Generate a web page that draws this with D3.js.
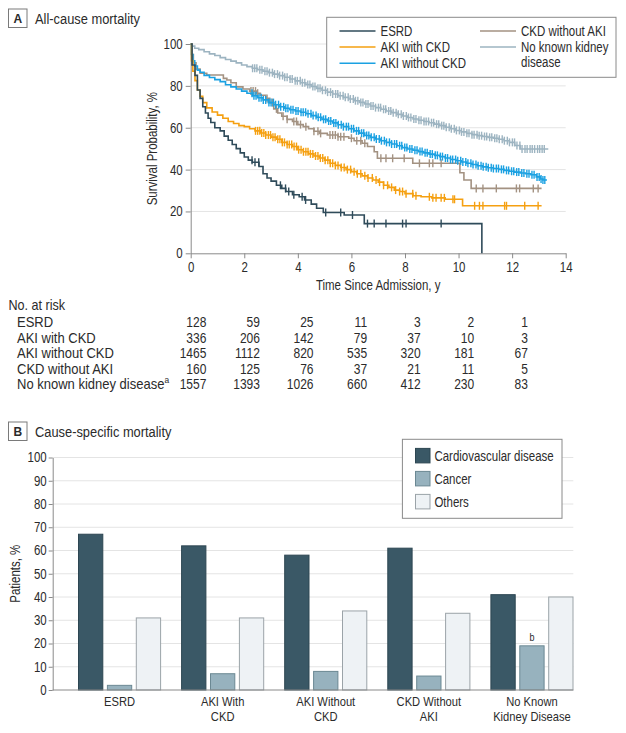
<!DOCTYPE html>
<html><head><meta charset="utf-8">
<script src="https://cdn.jsdelivr.net/npm/d3@7"></script>
<style>
body{margin:0;background:#fff;}
svg text{font-family:"Liberation Sans",Arial,sans-serif;fill:#2b2b2b;}
</style></head><body>
<svg id="c" width="626" height="733"></svg>
<script>
// ---------- Panel A data ----------
const xTicksA = [0,2,4,6,8,10,12,14];
const yTicksA = [0,20,40,60,80,100];
const seriesNames = ["ESRD","AKI with CKD","AKI without CKD","CKD without AKI","No known kidney disease"];
const seriesColors = ["#2f4b5a","#f5a011","#1ba1e2","#a39282","#9db4c1"];
// survival (time in years, survival %)
const esrdCurve = [[0,100],[0.05,90],[0.16,85],[0.25,78],[0.35,74],[0.45,70],[0.55,67],[0.65,64.5],[0.75,62.5],[0.9,60],[1.1,58.5],[1.25,56],[1.4,54],[1.55,52],[1.7,50],[1.85,48],[2.0,46],[2.15,44.5],[2.3,43.5],[2.55,41.5],[2.7,38],[2.85,36],[3.0,34.5],[3.2,32.5],[3.4,31],[3.55,29.5],[3.8,28],[4.05,27],[4.25,25.5],[4.5,23.5],[4.7,21.5],[4.95,19.5],[5.73,18.3],[6.48,14.2],[10.87,0]];
const akiCkdCurve = [[0,100],[0.03,92],[0.08,87],[0.16,82.5],[0.25,78],[0.35,75],[0.45,72],[0.6,69.5],[0.8,67.5],[1.0,66],[1.2,64.5],[1.4,63],[1.6,62],[1.8,61],[2.0,60.5],[2.2,59.5],[2.4,58.5],[2.6,57.5],[2.8,56.5],[3.0,55.5],[3.2,54.5],[3.4,53],[3.6,52],[3.8,51],[4.0,49.5],[4.2,48.5],[4.4,47.5],[4.6,46.5],[4.8,45.5],[5.0,44.5],[5.2,43],[5.4,42],[5.6,41],[5.8,40],[6.0,39],[6.2,38],[6.4,37],[6.6,36],[6.8,35],[7.0,34],[7.2,32.5],[7.4,31.5],[7.6,30.2],[7.8,29.5],[8.0,28.5],[8.3,27.5],[8.6,27],[9.0,26.5],[9.5,25.8],[10.15,22.7],[13.1,22.7]];
const akiNoCkdCurve = [[0,100],[0.03,95],[0.08,92],[0.15,89.5],[0.25,87.5],[0.35,86.5],[0.5,85],[0.7,84],[0.9,83],[1.1,82],[1.3,80.5],[1.5,79.5],[1.7,78.5],[1.9,77.5],[2.1,76.5],[2.3,75.3],[2.5,74.3],[2.7,73.3],[2.9,72],[3.1,71],[3.3,70],[3.5,69.3],[3.7,68.6],[3.9,68],[4.1,67.4],[4.3,66.7],[4.5,65.8],[4.7,65],[4.9,64],[5.1,63.2],[5.3,62.3],[5.5,61.4],[5.7,60.5],[5.9,59.5],[6.1,58.5],[6.3,57.4],[6.5,56.3],[6.7,55.4],[6.9,54.6],[7.1,53.8],[7.3,53],[7.5,52.2],[7.7,51.4],[7.9,50.5],[8.1,49.8],[8.3,49.2],[8.5,48.6],[8.7,48],[8.9,47.4],[9.1,46.8],[9.3,46.2],[9.5,45.5],[9.7,44.8],[9.9,44.2],[10.1,43.6],[10.3,43],[10.5,42.4],[10.7,41.8],[10.9,41.3],[11.1,40.9],[11.3,40.5],[11.5,40.1],[11.7,39.6],[11.9,39.2],[12.1,38.8],[12.3,38.4],[12.5,38],[12.7,37.5],[12.9,36.5],[13.05,35.5],[13.15,35],[13.3,35]];
const ckdNoAkiCurve = [[0,100],[0.04,95],[0.1,91],[0.2,88],[0.35,86],[0.6,85.2],[1.22,83.6],[1.35,82.8],[1.5,81.5],[1.7,79.5],[1.95,78.5],[2.2,77.5],[2.45,76.5],[2.6,75.5],[2.8,74],[2.95,72],[3.1,69],[3.25,67],[3.4,65.5],[3.6,64],[3.8,63],[4.0,61.5],[4.2,60.5],[4.4,59.5],[4.6,58.3],[4.8,57.3],[5.1,56.5],[5.5,55.7],[5.9,55],[6.1,53.8],[6.4,52.6],[6.6,51],[6.85,48.5],[6.97,45.4],[8.29,43],[10.05,38.5],[10.2,35],[10.47,31],[13.1,31]];
const noKidneyCurve = [[0,100],[0.05,99],[0.15,98],[0.3,97.3],[0.5,96.3],[0.7,95.3],[0.9,94.5],[1.1,93.5],[1.3,92.6],[1.5,91.8],[1.7,91],[1.9,90],[2.1,89.2],[2.3,88.4],[2.5,87.7],[2.7,87],[2.9,86.3],[3.1,85.6],[3.3,84.9],[3.5,84.1],[3.7,83.3],[3.9,82.4],[4.1,81.5],[4.3,80.6],[4.5,79.7],[4.7,78.8],[4.9,77.9],[5.1,77],[5.3,76.1],[5.5,75.3],[5.7,74.5],[5.9,73.7],[6.1,72.9],[6.3,72.1],[6.5,71.3],[6.7,70.4],[6.9,69.6],[7.1,68.8],[7.3,68],[7.5,67.2],[7.7,66.4],[7.9,65.6],[8.1,64.9],[8.3,64.2],[8.5,63.6],[8.7,63],[8.9,62.4],[9.1,61.7],[9.3,61],[9.5,60.2],[9.7,59.5],[9.9,58.7],[10.1,58],[10.3,57.3],[10.5,56.7],[10.7,56.2],[10.9,55.8],[11.1,55.4],[11.3,55],[11.5,54.5],[11.7,53.8],[11.9,53],[12.1,51.5],[12.3,49.8],[13.35,49.8]];
// censoring times (years)
const esrdCens = [2.29,2.4,2.54,3.35,3.54,3.66,3.85,4.16,4.29,5.04,5.6,6.04,6.6,6.85,7.29,7.91,8.04,9.35];
const akiCkdCens = [2.42,2.5,2.58,2.65,2.73,2.8,2.9,2.98,3.07,3.15,3.25,3.33,3.42,3.5,3.6,3.68,3.77,3.86,3.95,4.03,4.12,4.21,4.3,4.38,4.47,4.56,4.66,4.75,4.84,4.93,5.02,5.12,5.21,5.3,5.4,5.5,5.62,5.73,5.85,5.97,6.1,6.22,6.35,6.5,6.62,6.78,6.92,7.05,7.2,7.35,7.5,7.65,7.8,7.91,8.04,8.29,8.41,8.91,9.04,9.16,9.35,9.47,9.79,9.85,10.6,10.78,10.91,11.72,11.79,12.47,12.97];
const akiNoCkdCens = [2.29,2.36,2.44,2.55,2.63,2.71,2.8,2.92,3.0,3.09,3.17,3.28,3.36,3.47,3.55,3.63,3.74,3.82,3.93,4.01,4.12,4.2,4.29,4.38,4.49,4.57,4.68,4.76,4.85,4.96,5.04,5.15,5.23,5.34,5.42,5.51,5.62,5.7,5.81,5.89,6.0,6.08,6.19,6.27,6.38,6.46,6.57,6.65,6.74,6.85,6.93,7.04,7.12,7.23,7.31,7.42,7.5,7.61,7.69,7.8,7.88,7.99,8.07,8.18,8.26,8.37,8.45,8.56,8.64,8.75,8.83,8.94,9.02,9.13,9.21,9.32,9.4,9.51,9.59,9.7,9.78,9.89,9.97,10.08,10.16,10.27,10.35,10.46,10.54,10.65,10.73,10.84,10.92,11.03,11.11,11.22,11.3,11.41,11.49,11.6,11.68,11.79,11.87,11.98,12.06,12.17,12.25,12.36,12.44,12.55,12.63,12.74,12.82,12.93,13.01,13.08,13.15,13.22];
const ckdNoAkiCens = [2.25,2.33,2.42,2.5,2.85,3.05,3.2,3.45,3.6,3.85,3.95,4.1,4.3,4.6,4.75,4.85,5.2,5.3,5.4,5.5,5.6,5.72,6.0,6.2,6.35,6.5,7.1,7.29,7.54,7.97,8.54,8.91,9.04,9.35,10.66,10.91,11.41,12.16,12.28,12.79,12.97];
const noKidneyCens = [2.31,2.39,2.47,2.58,2.66,2.77,2.85,2.94,3.05,3.13,3.24,3.32,3.43,3.51,3.6,3.71,3.79,3.9,3.98,4.09,4.17,4.26,4.37,4.45,4.56,4.64,4.75,4.83,4.92,5.03,5.11,5.22,5.3,5.41,5.49,5.58,5.69,5.77,5.88,5.96,6.07,6.15,6.24,6.35,6.43,6.54,6.62,6.73,6.81,6.9,7.01,7.09,7.2,7.28,7.39,7.47,7.56,7.67,7.75,7.86,7.94,8.05,8.13,8.22,8.33,8.41,8.52,8.6,8.71,8.79,8.88,8.99,9.07,9.18,9.26,9.37,9.45,9.54,9.65,9.73,9.84,9.92,10.03,10.11,10.2,10.31,10.39,10.5,10.58,10.69,10.77,10.86,10.97,11.05,11.16,11.24,11.35,11.43,11.52,11.63,11.71,11.82,11.9,12.01,12.09,12.18,12.29,12.37,12.48,12.56,12.67,12.75,12.84,12.95,13.03,13.12,13.2];
// number at risk
const riskTimes = [0,2,4,6,8,10,12];
const riskEsrd = [128,59,25,11,3,2,1];
const riskAkiCkd = [336,206,142,79,37,10,3];
const riskAkiNoCkd = [1465,1112,820,535,320,181,67];
const riskCkdNoAki = [160,125,76,37,21,11,5];
const riskNoKidney = [1557,1393,1026,660,412,230,83];

// ---------- Panel B data ----------
const groups = ["ESRD","AKI With CKD","AKI Without CKD","CKD Without AKI","No Known Kidney Disease"];
const groupLabelLines = [["ESRD"],["AKI With","CKD"],["AKI Without","CKD"],["CKD Without","AKI"],["No Known","Kidney Disease"]];
const causes = ["Cardiovascular disease","Cancer","Others"];
const causeColors = ["#3a5866","#97b2be","#eef2f5"];
const causeStrokes = ["#2d4652","#6b8893","#9ba3a8"];
const cvdPct = [67,62,58,61,41];
const cancerPct = [2,7,8,6,19];
const othersPct = [31,31,34,33,40];
const yTicksB = [0,10,20,30,40,50,60,70,80,90,100];

// ---------- drawing ----------
const svg = d3.select("#c");
const axisCol = "#8a8a8a", gridCol = "#e4e4e4";
const SX = 0.82; // condensed text

function T(parent, x, y, s, size, anchor, sx){
  return parent.append("text")
    .attr("transform",`translate(${x},${y}) scale(${sx||SX},1)`)
    .attr("text-anchor",anchor||"start").attr("dominant-baseline","central")
    .attr("font-size",size).text(s);
}
function condenseAxis(ax){
  ax.selectAll("text").each(function(){
    const el = d3.select(this);
    const x0 = +el.attr("x") || 0;
    el.attr("x", x0/SX).attr("transform",`scale(${SX},1)`)
      .attr("font-size",14).attr("fill","#2b2b2b").attr("font-family",null);
  });
  ax.selectAll("path,line").attr("stroke",axisCol);
}

function panelTitle(y, letter, label){
  svg.append("rect").attr("x",8.5).attr("y",y).attr("width",18.5).attr("height",18.5)
    .attr("fill","#fff").attr("stroke","#7a7a7a").attr("stroke-width",1);
  svg.append("text").attr("x",17.75).attr("y",y+9.6).attr("text-anchor","middle").attr("dominant-baseline","central")
    .attr("font-size",12).attr("font-weight","bold").text(letter);
  T(svg,35,y+9.5,label,15.5,"start",0.83);
}

// Panel A
panelTitle(9,"A","All-cause mortality");
const xA = d3.scaleLinear().domain([0,14]).range([190.7,565.7]);
const yA = d3.scaleLinear().domain([0,100]).range([253.3,44]);
const gA = svg.append("g");
gA.selectAll("line.grid").data(yTicksA.filter(d=>d>0)).join("line")
  .attr("x1",xA(0)).attr("x2",xA(14)).attr("y1",d=>yA(d)).attr("y2",d=>yA(d))
  .attr("stroke",gridCol).attr("stroke-width",1);
const axLA = gA.append("g").attr("transform",`translate(${xA(0)},0)`)
  .call(d3.axisLeft(yA).tickValues(yTicksA).tickSize(5).tickSizeOuter(0).tickPadding(3));
const axBA = gA.append("g").attr("transform",`translate(0,${yA(0)})`)
  .call(d3.axisBottom(xA).tickValues(xTicksA).tickSize(5).tickSizeOuter(0).tickPadding(4));
condenseAxis(axLA); condenseAxis(axBA);
svg.append("text").attr("transform",`translate(152,${(yA(0)+yA(100))/2}) rotate(-90) scale(${SX},1)`)
  .attr("text-anchor","middle").attr("dominant-baseline","central").attr("font-size",14).text("Survival Probability, %");
T(svg,(xA(0)+xA(14))/2,285,"Time Since Admission, y",14,"middle");

const curves = [esrdCurve, akiCkdCurve, akiNoCkdCurve, ckdNoAkiCurve, noKidneyCurve];
const cens = [esrdCens, akiCkdCens, akiNoCkdCens, ckdNoAkiCens, noKidneyCens];
const lineGen = d3.line().x(d=>xA(d[0])).y(d=>yA(d[1])).curve(d3.curveStepAfter);
function survAt(curve,t){ let s=curve[0][1]; for(const p of curve){ if(p[0]<=t) s=p[1]; else break;} return s; }
const drawOrder = [4,3,2,1,0];
drawOrder.forEach(i=>{
  const g = gA.append("g");
  g.append("path").datum(curves[i]).attr("d",lineGen).attr("fill","none")
    .attr("stroke",seriesColors[i]).attr("stroke-width",1.6);
  g.selectAll("line").data(cens[i]).join("line")
    .attr("x1",d=>xA(d)).attr("x2",d=>xA(d))
    .attr("y1",d=>yA(survAt(curves[i],d))-4).attr("y2",d=>yA(survAt(curves[i],d))+4)
    .attr("stroke",seriesColors[i]).attr("stroke-width",1.4);
});

// legend A
svg.append("rect").attr("x",326.7).attr("y",17.3).attr("width",289.3).attr("height",60)
  .attr("fill","#fff").attr("stroke","#8a8a8a").attr("stroke-width",1);
const legPos = [[339.5,31],[339.5,47],[339.5,63.3],[480,31],[480,47]];
seriesNames.forEach((n,i)=>{
  const [lx,ly] = legPos[i];
  svg.append("line").attr("x1",lx).attr("x2",lx+36).attr("y1",ly).attr("y2",ly)
    .attr("stroke",seriesColors[i]).attr("stroke-width",1.6);
  if(i===4){
    T(svg,lx+41,ly,"No known kidney",14);
    T(svg,lx+41,ly+15.5,"disease",14);
  } else T(svg,lx+41,ly,n,14);
});

// risk table
const riskData = [riskEsrd, riskAkiCkd, riskAkiNoCkd, riskCkdNoAki, riskNoKidney];
const riskY = d3.scalePoint().domain(seriesNames).range([322.3,384.5]);
T(svg,8.5,305,"No. at risk",14,"start",0.9);
seriesNames.forEach((n,i)=>{
  const t = T(svg,17,riskY(n),n,14,"start",0.93);
  if(i===4) t.append("tspan").attr("font-size",9).attr("dy",-5).text("a");
  riskData[i].forEach((v,j)=>{
    T(svg,xA(riskTimes[j])+15.7,riskY(n),v,14,"end",0.86);
  });
});

// Panel B
panelTitle(422,"B","Cause-specific mortality");
const yB = d3.scaleLinear().domain([0,100]).range([690,457.5]);
const xB0 = 52.7, xB1 = 573.3;
const xB = d3.scaleBand().domain(groups).range([68,583.5]);
const xInner = d3.scaleBand().domain(causes).range([-43.35,43.35]).paddingInner(0.1246).paddingOuter(0.0623);
const gB = svg.append("g");
gB.selectAll("line.grid").data(yTicksB.filter(d=>d>0)).join("line")
  .attr("x1",xB0).attr("x2",xB1).attr("y1",d=>yB(d)).attr("y2",d=>yB(d))
  .attr("stroke",gridCol).attr("stroke-width",1);
const axLB = gB.append("g").attr("transform",`translate(${xB0},0)`)
  .call(d3.axisLeft(yB).tickValues(yTicksB).tickSize(4).tickSizeOuter(0).tickPadding(2));
condenseAxis(axLB);
const pctData = [cvdPct, cancerPct, othersPct];
groups.forEach((g,gi)=>{
  const cx = xB(g) + xB.bandwidth()/2;
  causes.forEach((c,ci)=>{
    const v = pctData[ci][gi];
    gB.append("rect").attr("x",cx+xInner(c)+0.5).attr("y",yB(v)).attr("width",xInner.bandwidth()-1)
      .attr("height",yB(0)-yB(v)).attr("fill",causeColors[ci]).attr("stroke",causeStrokes[ci]).attr("stroke-width",1);
  });
  groupLabelLines[gi].forEach((ln,li)=>{
    T(svg,cx,702+li*15.2,ln,13,"middle",0.86);
  });
});
gB.append("line").attr("x1",xB0).attr("x2",xB1).attr("y1",yB(0)).attr("y2",yB(0)).attr("stroke",axisCol);
// footnote marker b
{
  const cx = xB(groups[4]) + xB.bandwidth()/2 + xInner(causes[1]) + xInner.bandwidth()/2;
  T(svg,cx,yB(cancerPct[4])-9,"b",11,"middle");
}
svg.append("text").attr("transform",`translate(15,${(yB(0)+yB(100))/2}) rotate(-90) scale(${SX},1)`)
  .attr("text-anchor","middle").attr("dominant-baseline","central").attr("font-size",14).text("Patients, %");

// legend B
svg.append("rect").attr("x",402.4).attr("y",439.3).attr("width",159.6).attr("height",79)
  .attr("fill","#fff").attr("stroke","#8a8a8a").attr("stroke-width",1);
causes.forEach((c,i)=>{
  const ly = 455.7 + i*23;
  svg.append("rect").attr("x",415.5).attr("y",ly-7.3).attr("width",14.5).attr("height",14.5)
    .attr("fill",causeColors[i]).attr("stroke",causeStrokes[i]).attr("stroke-width",1);
  T(svg,434.4,ly,c,14);
});
</script>
</body></html>
